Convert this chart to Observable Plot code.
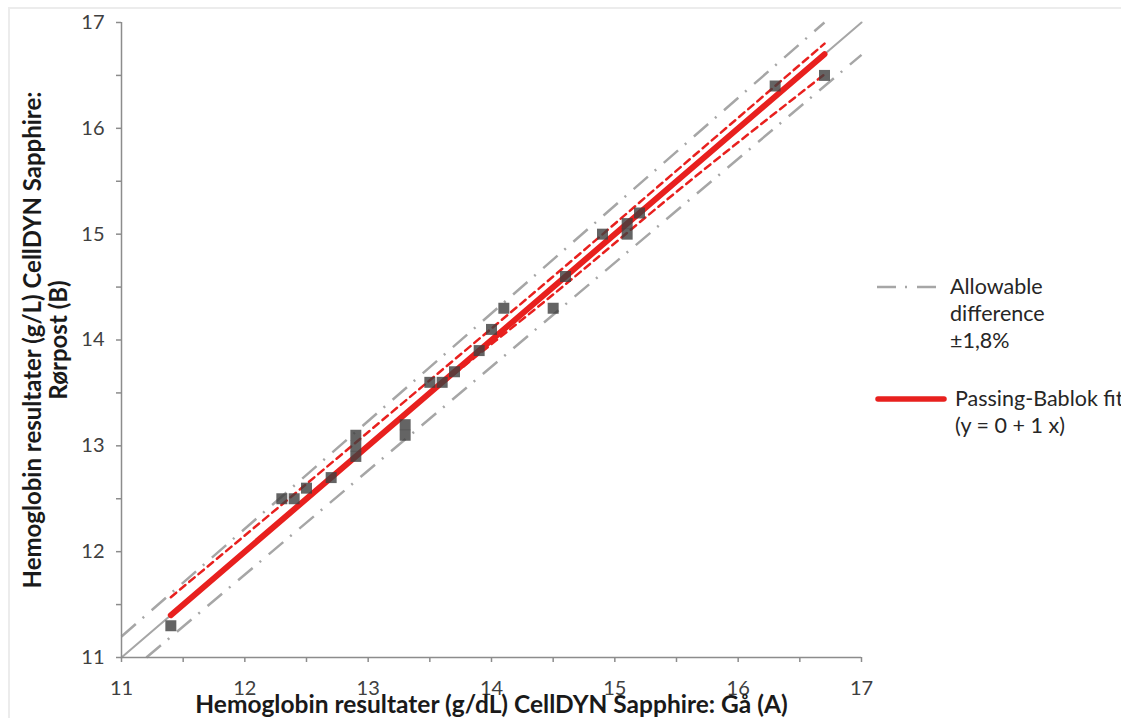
<!DOCTYPE html>
<html>
<head>
<meta charset="utf-8">
<script src="https://cdn.jsdelivr.net/npm/d3@7"></script>
<script src="https://cdn.jsdelivr.net/npm/@observablehq/plot@0.6"></script>
<style>
  html, body { margin: 0; padding: 0; background: #fff; overflow: hidden; }
  #wrap { position: relative; width: 1121px; height: 718px; font-family: Lato, "Open Sans", sans-serif; }
  #border { position: absolute; left: 8px; top: 7px; width: 1200px; height: 800px; border: 2px solid #ececec; box-sizing: border-box; }
  #chart { position: absolute; left: 0; top: 0; }
  .lg { position: absolute; font-size: 21.5px; color: #262626; line-height: 27px; white-space: nowrap; }
  .lgs { position: absolute; }
</style>
</head>
<body>
<div id="wrap">
  <div id="border"></div>
  <div id="chart"></div>
</div>
<script>
// Measurements: Gå (A) vs Rørpost (B)
const gaA = [11.4, 12.3, 12.4, 12.5, 12.7, 12.9, 12.9, 12.9, 13.3, 13.3, 13.5, 13.6, 13.7, 13.9, 14.0, 14.1, 14.5, 14.6, 14.9, 15.1, 15.1, 15.2, 16.3, 16.7];
const rorpostB = [11.3, 12.5, 12.5, 12.6, 12.7, 13.1, 13.0, 12.9, 13.2, 13.1, 13.6, 13.6, 13.7, 13.9, 14.1, 14.3, 14.3, 14.6, 15.0, 15.1, 15.0, 15.2, 16.4, 16.5];

// Passing-Bablok fit y = 0 + 1x, drawn over the data range
const fitX = [11.4, 16.7];
const fitY = [11.4, 16.7];

// Confidence band of the fit
const ciX = [11.4, 12.5, 13.5, 14.5, 15.5, 16.7];
const ciUpper = [11.57, 12.64, 13.62, 14.60, 15.60, 16.80];
const ciLower = [11.40, 12.50, 13.49, 14.43, 15.40, 16.51];

// Identity and allowable difference ±1.8%
const identX = [11, 17];
const identY = [11, 17];
const allowUpperX = [11, 17 / 1.018];
const allowUpperY = [11 * 1.018, 17];
const allowLowerX = [11 / 0.982, 17];
const allowLowerY = [11, 17 * 0.982];

const majorTicks = [11, 12, 13, 14, 15, 16, 17];
const minorTicks = [11.5, 12.5, 13.5, 14.5, 15.5, 16.5];

const xTitle = "Hemoglobin resultater (g/dL) CellDYN Sapphire: Gå (A)";
const yTitle = "Hemoglobin resultater (g/L) CellDYN Sapphire:\nRørpost (B)";

const points = gaA.map((x, i) => ({x, y: rorpostB[i]}));
const pair = (xs, ys) => xs.map((x, i) => ({x, y: ys[i]}));

const red = "#e8201e";
const grey = "#a6a6a6";
const axisGrey = "#8c8c8c";
const font = "Lato, 'Open Sans', sans-serif";

const chart = Plot.plot({
  width: 1121,
  height: 718,
  marginLeft: 121,
  marginRight: 260,
  marginTop: 22,
  marginBottom: 61,
  style: {fontFamily: font, background: "transparent", overflow: "visible"},
  x: {domain: [11, 17]},
  y: {domain: [11, 17]},
  marks: [
    Plot.line(pair(identX, identY), {x: "x", y: "y", stroke: grey, strokeWidth: 2}),
    Plot.line(pair(allowUpperX, allowUpperY), {x: "x", y: "y", stroke: grey, strokeWidth: 2.5, strokeDasharray: "19,9,2,10", strokeLinecap: "butt"}),
    Plot.line(pair(allowLowerX, allowLowerY), {x: "x", y: "y", stroke: grey, strokeWidth: 2.5, strokeDasharray: "19,9,2,10", strokeLinecap: "butt"}),
    Plot.line(pair(ciX, ciUpper), {x: "x", y: "y", stroke: red, strokeWidth: 2.5, strokeDasharray: "7,5", curve: "monotone-x"}),
    Plot.line(pair(ciX, ciLower), {x: "x", y: "y", stroke: red, strokeWidth: 2.5, strokeDasharray: "7,5", curve: "monotone-x"}),
    Plot.line(pair(fitX, fitY), {x: "x", y: "y", stroke: red, strokeWidth: 6, strokeLinecap: "round"}),
    Plot.dot(points, {x: "x", y: "y", symbol: "square", r: 6.2, fill: "#404040", fillOpacity: 0.81, stroke: "none"}),
    Plot.axisX({ticks: majorTicks, tickSize: 5, tickPadding: 18, fontSize: 20, color: "#404040", stroke: axisGrey, strokeWidth: 1.5, label: null, tickFormat: d3.format("d")}),
    Plot.axisX({ticks: minorTicks, tickSize: 5, text: null, stroke: axisGrey, strokeWidth: 1.5, label: null}),
    Plot.axisY({ticks: majorTicks, tickSize: 5, tickPadding: 12, fontSize: 20, color: "#404040", stroke: axisGrey, strokeWidth: 1.5, label: null, tickFormat: d3.format("d")}),
    Plot.axisY({ticks: minorTicks, tickSize: 5, text: null, stroke: axisGrey, strokeWidth: 1.5, label: null}),
    Plot.ruleX([11], {stroke: axisGrey, strokeWidth: 1.5}),
    Plot.ruleY([11], {stroke: axisGrey, strokeWidth: 1.5}),
    Plot.text([xTitle], {frameAnchor: "bottom", dy: 48, textAnchor: "middle", lineAnchor: "middle", fontSize: 24.5, fontWeight: "bold", fill: "#1a1a1a"}),
    Plot.text([yTitle], {frameAnchor: "left", dx: -76, rotate: -90, textAnchor: "middle", lineAnchor: "middle", fontSize: 24, fontWeight: "bold", fill: "#1a1a1a", lineHeight: 1.09})
  ]
});
document.getElementById("chart").appendChild(chart);

// Legend
const wrap = document.getElementById("wrap");
function addSample(left, top, w, stroke, sw, dash, cap) {
  const ns = "http://www.w3.org/2000/svg";
  const s = document.createElementNS(ns, "svg");
  s.setAttribute("width", w); s.setAttribute("height", 10);
  s.setAttribute("class", "lgs");
  s.style.left = left + "px"; s.style.top = (top - 5) + "px";
  const l = document.createElementNS(ns, "line");
  l.setAttribute("x1", cap === "round" ? 3 : 0); l.setAttribute("x2", cap === "round" ? w - 3 : w);
  l.setAttribute("y1", 5); l.setAttribute("y2", 5);
  l.setAttribute("stroke", stroke); l.setAttribute("stroke-width", sw);
  if (dash) l.setAttribute("stroke-dasharray", dash);
  l.setAttribute("stroke-linecap", cap);
  s.appendChild(l);
  wrap.appendChild(s);
}
function addText(left, top, lines) {
  const d = document.createElement("div");
  d.className = "lg";
  d.style.left = left + "px"; d.style.top = top + "px";
  d.innerHTML = lines.join("<br>");
  wrap.appendChild(d);
}
addSample(877, 287, 60, grey, 2.5, "19,9,2,10", "butt");
addText(950, 273, ["Allowable", "difference", "±1,8%"]);
addSample(875, 399, 72, red, 5.5, null, "round");
addText(955, 385, ["Passing-Bablok fit", "(y = 0 + 1 x)"]);
</script>
</body>
</html>
